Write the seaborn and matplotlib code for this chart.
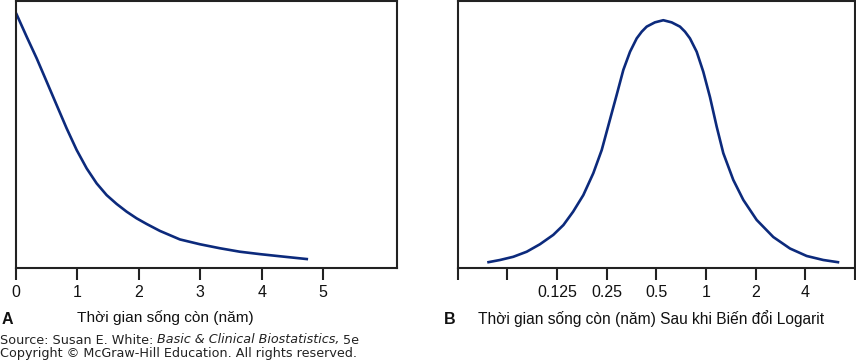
import matplotlib
matplotlib.use("Agg")
import matplotlib.pyplot as plt
import seaborn as sns
import pandas as pd

# Panel A: survival time (years) vs relative frequency
a_years = [0.0, 0.174, 0.337, 0.499, 0.662, 0.824, 0.987, 1.150, 1.312,
           1.475, 1.637, 1.800, 1.963, 2.125, 2.341, 2.667, 2.992, 3.317,
           3.642, 3.967, 4.293, 4.753]
a_freq = [0.955, 0.866, 0.785, 0.698, 0.610, 0.523, 0.442, 0.373, 0.317,
          0.273, 0.240, 0.211, 0.186, 0.165, 0.139, 0.107, 0.089, 0.074,
          0.061, 0.052, 0.044, 0.033]
a_ticks = [0, 1, 2, 3, 4, 5]
a_ticklabels = ["0", "1", "2", "3", "4", "5"]

# Panel B: survival time after log transform (years, log2 axis)
b_years = [0.0472, 0.0564, 0.0679, 0.0819, 0.0985, 0.1186, 0.1367, 0.1565,
           0.1804, 0.2074, 0.2333, 0.2679, 0.2873, 0.3154, 0.3463, 0.3801,
           0.4076, 0.4369, 0.490, 0.5509, 0.619, 0.6953, 0.746, 0.7993,
           0.8779, 0.9626, 1.057, 1.161, 1.273, 1.463, 1.683, 2.028, 2.558,
           3.229, 4.076, 5.137, 6.422]
b_freq = [0.021, 0.030, 0.042, 0.061, 0.089, 0.124, 0.161, 0.211, 0.273,
          0.355, 0.442, 0.579, 0.648, 0.742, 0.810, 0.860, 0.885, 0.904,
          0.920, 0.928, 0.920, 0.904, 0.885, 0.860, 0.810, 0.735, 0.640,
          0.529, 0.430, 0.330, 0.255, 0.180, 0.116, 0.073, 0.045, 0.030,
          0.021]
b_ticks = [0.03125, 0.0625, 0.125, 0.25, 0.5, 1, 2, 4, 8]
b_ticklabels = ["", "", "0.125", "0.25", "0.5", "1", "2", "4", ""]

sns.set_style("white")
plt.rcParams["font.family"] = ["Liberation Sans", "DejaVu Sans"]

W, H = 856, 361
fig = plt.figure(figsize=(W / 100, H / 100), dpi=100)

def px_axes(x0, x1, y0, y1):
    return fig.add_axes([x0 / W, 1 - y1 / H, (x1 - x0) / W, (y1 - y0) / H])

axA = px_axes(16, 397, 1, 268)
axB = px_axes(457.7, 855, 1, 268)

line_color = "#0c2a7c"
dfA = pd.DataFrame({"x": a_years, "y": a_freq})
dfB = pd.DataFrame({"x": b_years, "y": b_freq})
sns.lineplot(data=dfA, x="x", y="y", ax=axA, color=line_color, lw=1.9,
             solid_joinstyle="round", solid_capstyle="butt")
sns.lineplot(data=dfB, x="x", y="y", ax=axB, color=line_color, lw=1.9,
             solid_joinstyle="round", solid_capstyle="butt")

axA.set_xlim(0, 6.2)
axA.set_ylim(0, 1)
axA.set_xticks(a_ticks)
axA.set_xticklabels(a_ticklabels)

axB.set_xscale("log", base=2)
axB.set_xlim(2 ** -5, 2 ** 3)
axB.set_ylim(0, 1)
axB.set_xticks(b_ticks)
axB.set_xticklabels(b_ticklabels)
axB.minorticks_off()

for ax in (axA, axB):
    ax.set_yticks([])
    ax.set_xlabel("")
    ax.set_ylabel("")
    for s in ax.spines.values():
        s.set_visible(True)
        s.set_color("#222222")
        s.set_linewidth(1.5)
    ax.tick_params(axis="x", direction="out", length=8.5, width=1.5,
                   color="#222222", labelsize=11.5, pad=4,
                   labelcolor="#111111", bottom=True)
    ax.patch.set_facecolor("white")

# Axis labels and panel letters
fig.text(77 / W, 1 - 318 / H, "Thời gian sống còn (năm)", ha="left", va="center",
         fontsize=11.1, color="#111111")
fig.text(2 / W, 1 - 320 / H, "A", ha="left", va="center", fontsize=11.5,
         fontweight="bold", color="#111111")
fig.text(478 / W, 1 - 319 / H, "Thời gian sống còn (năm) Sau khi Biến đổi Logarit",
         ha="left", va="center", fontsize=11.2, color="#111111")
fig.text(444 / W, 1 - 320 / H, "B", ha="left", va="center", fontsize=11.5,
         fontweight="bold", color="#111111")

# Source lines
fs = 9.2
y_src = 1 - 340 / H
t1 = fig.text(0, y_src, "Source: Susan E. White: ", ha="left", va="center",
              fontsize=fs, family="DejaVu Sans", color="#222222")
fig.text(0, 1 - 354 / H, "Copyright © McGraw-Hill Education. All rights reserved.",
         ha="left", va="center", fontsize=fs, family="DejaVu Sans", color="#222222")

fig.canvas.draw()
r = fig.canvas.get_renderer()
bb = t1.get_window_extent(r)
t_it = fig.text(bb.x1 / W, y_src, "Basic & Clinical Biostatistics,", ha="left",
                va="center", fontsize=fs, family="DejaVu Sans", style="italic",
                color="#222222")
bb2 = t_it.get_window_extent(r)
fig.text(bb2.x1 / W + 0.004, y_src, "5e", ha="left", va="center",
         fontsize=fs, family="DejaVu Sans", color="#222222")

fig.savefig("out.png", dpi=100, facecolor="white")
